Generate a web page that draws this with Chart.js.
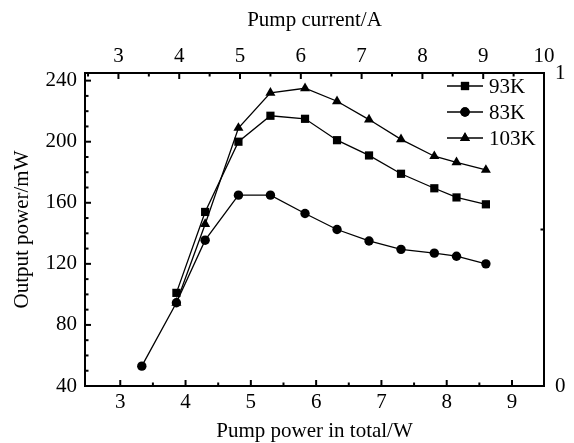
<!DOCTYPE html>
<html>
<head>
<meta charset="utf-8">
<script src="https://cdn.jsdelivr.net/npm/chart.js@4/dist/chart.umd.min.js"></script>
<style>
  html, body { margin: 0; background: #fff; }
</style>
</head>
<body>
<canvas id="grafica" width="574" height="443"></canvas>
<script>
// pump power (W) for each measured point
const power83 = [3.33, 3.86, 4.30, 4.81, 5.30, 5.83, 6.32, 6.81, 7.30, 7.81, 8.15, 8.60];
const power93 = [3.86, 4.30, 4.81, 5.30, 5.83, 6.32, 6.81, 7.30, 7.81, 8.15, 8.60];
const power103 = [3.86, 4.30, 4.81, 5.30, 5.83, 6.32, 6.81, 7.30, 7.81, 8.15, 8.60];

// output power (mW)
const output93 = [101, 154, 200, 217, 215, 201, 191, 179, 169.5, 163.5, 159];
const output83 = [53, 94.5, 135.5, 165, 165, 153, 142.5, 135, 129.5, 127, 125, 120];
const output103 = [94.5, 146, 209, 232, 235, 226.5, 214.5, 201.5, 190.5, 186.5, 181.5];

// tick labels
const powerTicks = [3, 4, 5, 6, 7, 8, 9];
const currentTicks = [3, 4, 5, 6, 7, 8, 9, 10];
const outputTicks = [40, 80, 120, 160, 200, 240];
const rightTicks = [0, 1];

(function() {

  const ctx = document.querySelector("#grafica");
  const fuente = { family: "'Liberation Serif', 'Times New Roman', serif", size: 21 };
  const negro = '#000';

  const toPoints = (xs, ys) => xs.map((x, i) => ({ x: x, y: ys[i] }));
  const fixTicks = values => scale => { scale.ticks = values.map(v => ({ value: v })); };

  // small inward ticks, like the original plot
  const inwardTicks = {
    id: 'inwardTicks',
    afterDatasetsDraw(chart) {
      const c = chart.ctx;
      const area = chart.chartArea;
      const minorStep = { x: 0.5, x2: 0.5, y: 10, y2: 0.5 };
      c.save();
      c.strokeStyle = negro;
      c.lineWidth = 2;
      Object.keys(minorStep).forEach(id => {
        const s = chart.scales[id];
        const step = minorStep[id];
        const majors = s.ticks.map(t => t.value);
        const first = Math.ceil(s.min / step) * step;
        for (let v = first; v <= s.max + 1e-9; v += step) {
          const val = Math.round(v * 1000) / 1000;
          const isMajor = majors.some(m => Math.abs(m - val) < 1e-6);
          const len = isMajor ? 6 : 3.5;
          const p = s.getPixelForValue(val);
          c.beginPath();
          if (s.isHorizontal()) {
            if (p < area.left + 3 || p > area.right - 3) continue;
            const y0 = s.position === 'bottom' ? area.bottom : area.top;
            const dir = s.position === 'bottom' ? -1 : 1;
            c.moveTo(p, y0);
            c.lineTo(p, y0 + dir * len);
          } else {
            if (p < area.top + 3 || p > area.bottom - 3) continue;
            const x0 = s.position === 'left' ? area.left : area.right;
            const dir = s.position === 'left' ? 1 : -1;
            c.moveTo(x0, p);
            c.lineTo(x0 + dir * len, p);
          }
          c.stroke();
        }
      });
      c.restore();
    }
  };

  // legend with a line through the marker, top right inside the frame
  const leyenda = {
    id: 'leyenda',
    afterDraw(chart) {
      const c = chart.ctx;
      const area = chart.chartArea;
      c.save();
      c.font = fuente.size + 'px ' + fuente.family;
      c.fillStyle = negro;
      c.strokeStyle = negro;
      c.textBaseline = 'middle';
      chart.data.datasets.forEach((ds, i) => {
        const y = area.top + 13 + i * 26;
        const x = area.right - 97;
        c.lineWidth = 1.3;
        c.beginPath();
        c.moveTo(x, y);
        c.lineTo(x + 36, y);
        c.stroke();
        Chart.helpers.drawPoint(c, {
          pointStyle: ds.pointStyle,
          radius: ds.pointRadius,
          rotation: 0,
          borderWidth: 0
        }, x + 18, y);
        c.fill();
        c.fillText(ds.label, x + 42, y + 1);
      });
      c.restore();
    }
  };

  const serie = (label, xs, ys, estilo, radio) => ({
    label: label,
    data: toPoints(xs, ys),
    showLine: true,
    borderColor: negro,
    backgroundColor: negro,
    borderWidth: 1.3,
    pointStyle: estilo,
    pointRadius: radio,
    pointBorderWidth: 0,
    pointBackgroundColor: negro
  });

  new Chart(ctx, {
    type: 'scatter',
    data: {
      datasets: [
        serie('93K', power93, output93, 'rect', 5.8),
        serie('83K', power83, output83, 'circle', 4.7),
        serie('103K', power103, output103, 'triangle', 5.8)
      ]
    },
    options: {
      responsive: false,
      animation: false,
      layout: { padding: 0 },
      scales: {
        x: {
          type: 'linear',
          position: 'bottom',
          min: 2.46,
          max: 9.49,
          afterBuildTicks: fixTicks(powerTicks),
          afterFit: s => { s.height = 57; },
          grid: { display: false, drawTicks: false },
          border: { display: true, color: negro, width: 2 },
          ticks: { color: negro, font: fuente, padding: 4, maxRotation: 0 },
          title: {
            display: true,
            text: 'Pump power in total/W',
            color: negro,
            font: { ...fuente, lineHeight: 1 },
            padding: { top: 0, bottom: 1 }
          }
        },
        x2: {
          type: 'linear',
          position: 'top',
          min: 2.45,
          max: 10,
          afterBuildTicks: fixTicks(currentTicks),
          afterFit: s => { s.height = 73; },
          grid: { display: false, drawTicks: false },
          border: { display: true, color: negro, width: 2 },
          ticks: { color: negro, font: fuente, padding: 4, maxRotation: 0 },
          title: {
            display: true,
            text: 'Pump current/A',
            color: negro,
            font: { ...fuente, lineHeight: 1 },
            padding: { top: 10, bottom: 0 }
          }
        },
        y: {
          type: 'linear',
          position: 'left',
          min: 40,
          max: 245,
          afterBuildTicks: fixTicks(outputTicks),
          afterFit: s => { s.width = 85; },
          grid: { display: false, drawTicks: false },
          border: { display: true, color: negro, width: 2 },
          ticks: { color: negro, font: fuente, padding: 8 },
          title: {
            display: true,
            text: 'Output power/mW',
            color: negro,
            font: { ...fuente, lineHeight: 1 },
            padding: { top: 12, bottom: 0 }
          }
        },
        y2: {
          type: 'linear',
          position: 'right',
          min: 0,
          max: 1,
          afterBuildTicks: fixTicks(rightTicks),
          afterFit: s => { s.width = 30; },
          grid: { display: false, drawTicks: false },
          border: { display: true, color: negro, width: 2 },
          ticks: { color: negro, font: fuente, padding: 11 }
        }
      },
      plugins: {
        legend: { display: false },
        tooltip: { enabled: false }
      }
    },
    plugins: [inwardTicks, leyenda]
  });

})();
</script>
</body>
</html>
